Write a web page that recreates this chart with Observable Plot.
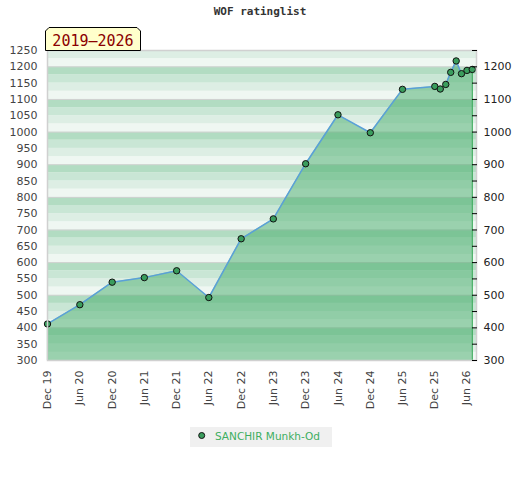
<!DOCTYPE html>
<html><head><meta charset="utf-8">
<script src="https://cdn.jsdelivr.net/npm/d3@7"></script>
<script src="https://cdn.jsdelivr.net/npm/@observablehq/plot@0.6"></script>
<style>
body{margin:0;background:#fff;}
#wrap{position:relative;width:520px;height:480px;}
#title{position:absolute;left:0;width:520px;top:5px;text-align:center;font:bold 11px "DejaVu Sans Mono",monospace;color:#333;}
#badge{position:absolute;left:44px;top:26px;}
#legend{position:absolute;left:190px;top:427px;}
</style></head><body>
<div id="wrap">
  <div id="chart"></div>
  <div id="title">WOF ratinglist</div>
  <svg id="badge" width="98" height="26">
    <polygon points="1.5,24.5 1.5,5 5,1.5 93,1.5 96.5,5 96.5,24.5" fill="#ffffcc" stroke="#000" stroke-width="1"/>
    <text x="49" y="19.5" text-anchor="middle" fill="#8b0000" style="font:15px 'DejaVu Sans Mono',monospace">2019–2026</text>
  </svg>
  <svg id="legend" width="142" height="20">
    <rect x="0" y="0" width="142" height="20" fill="#f0f0f0"/>
    <circle cx="11.7" cy="8.5" r="3" fill="#3a9d5d" stroke="#111" stroke-width="1"/>
    <text x="25" y="13" fill="#3dae5f" style="font:10.5px 'DejaVu Sans',sans-serif">SANCHIR Munkh-Od</text>
  </svg>
</div>
<script>
const dates = ["2019-12-01","2020-06-01","2020-12-01","2021-06-01","2021-12-01","2022-06-01","2022-12-01","2023-06-01","2023-12-01","2024-06-01","2024-12-01","2025-06-01","2025-12-01","2026-01-01","2026-02-01","2026-03-01","2026-04-01","2026-05-01","2026-06-01","2026-07-01"];
const ratings = [412,471,540,554,575,493,673,734,903,1053,998,1131,1140,1132,1146,1183,1218,1179,1189,1192];
const xTickDates = ["2019-12-01","2020-06-01","2020-12-01","2021-06-01","2021-12-01","2022-06-01","2022-12-01","2023-06-01","2023-12-01","2024-06-01","2024-12-01","2025-06-01","2025-12-01","2026-06-01"];
const leftTicks = d3.range(300, 1251, 50);
const rightTicks = d3.range(300, 1251, 50);
const bandColors = ["#eff7f2","#ddeee4","#c9e6d5","#b2dcc2"];

const data = dates.map((d, i) => ({date: new Date(d), v: ratings[i]}));
const ends = [data[0], data[data.length - 1]];
const bands = d3.range(300, 1250, 25).map(lo => ({lo, hi: lo + 25, color: bandColors[((lo % 100) / 25)]}));
const hundreds = d3.range(400, 1250, 100);
const plain = d => String(d);

const chart = Plot.plot({
  width: 520, height: 480,
  marginLeft: 47, marginRight: 44, marginTop: 50, marginBottom: 120,
  style: {fontFamily: "DejaVu Sans, sans-serif", fontSize: "11px", color: "#444", background: "transparent"},
  x: {type: "utc", domain: [new Date("2019-12-01"), new Date("2026-07-25")]},
  y: {domain: [300, 1250]},
  color: {type: "identity"},
  marks: [
    Plot.rect(bands, {y1: "lo", y2: "hi", fill: "color"}),
    Plot.ruleY(hundreds, {stroke: "#d2d2d2", strokeWidth: 1}),
    Plot.areaY(data, {x: "date", y1: 300, y2: "v", fill: "#46ac69", fillOpacity: 0.5}),
    Plot.ruleX(ends, {x: "date", y1: 300, y2: "v", stroke: "#3aaa5a", strokeWidth: 1.2}),
    Plot.line(data, {x: "date", y: "v", stroke: "#5aa0d8", strokeWidth: 1.5}),
    Plot.dot(data, {x: "date", y: "v", r: 3.2, fill: "#3a9d5d", stroke: "#111", strokeWidth: 1}),
    Plot.frame({stroke: "#d0d0d0", strokeWidth: 1.5}),
    Plot.axisY({anchor: "left", ticks: leftTicks, tickFormat: plain, tickSize: 0, tickPadding: 10, label: null}),
    Plot.axisY({anchor: "right", ticks: rightTicks, tickSize: -5, tickFormat: () => "", label: null, stroke: "#000"}),
    Plot.axisY({anchor: "right", ticks: rightTicks.filter(t => t % 100 === 0 && t < 1250), tickFormat: plain, tickSize: 0, tickPadding: 7, label: null, fill: "#222"}),
    Plot.axisX({ticks: xTickDates.map(d => new Date(d)), tickFormat: d3.utcFormat("%b %y"), tickRotate: -90, tickSize: 0, tickPadding: 10, label: null})
  ]
});
document.getElementById("chart").appendChild(chart);
</script>
</body></html>
